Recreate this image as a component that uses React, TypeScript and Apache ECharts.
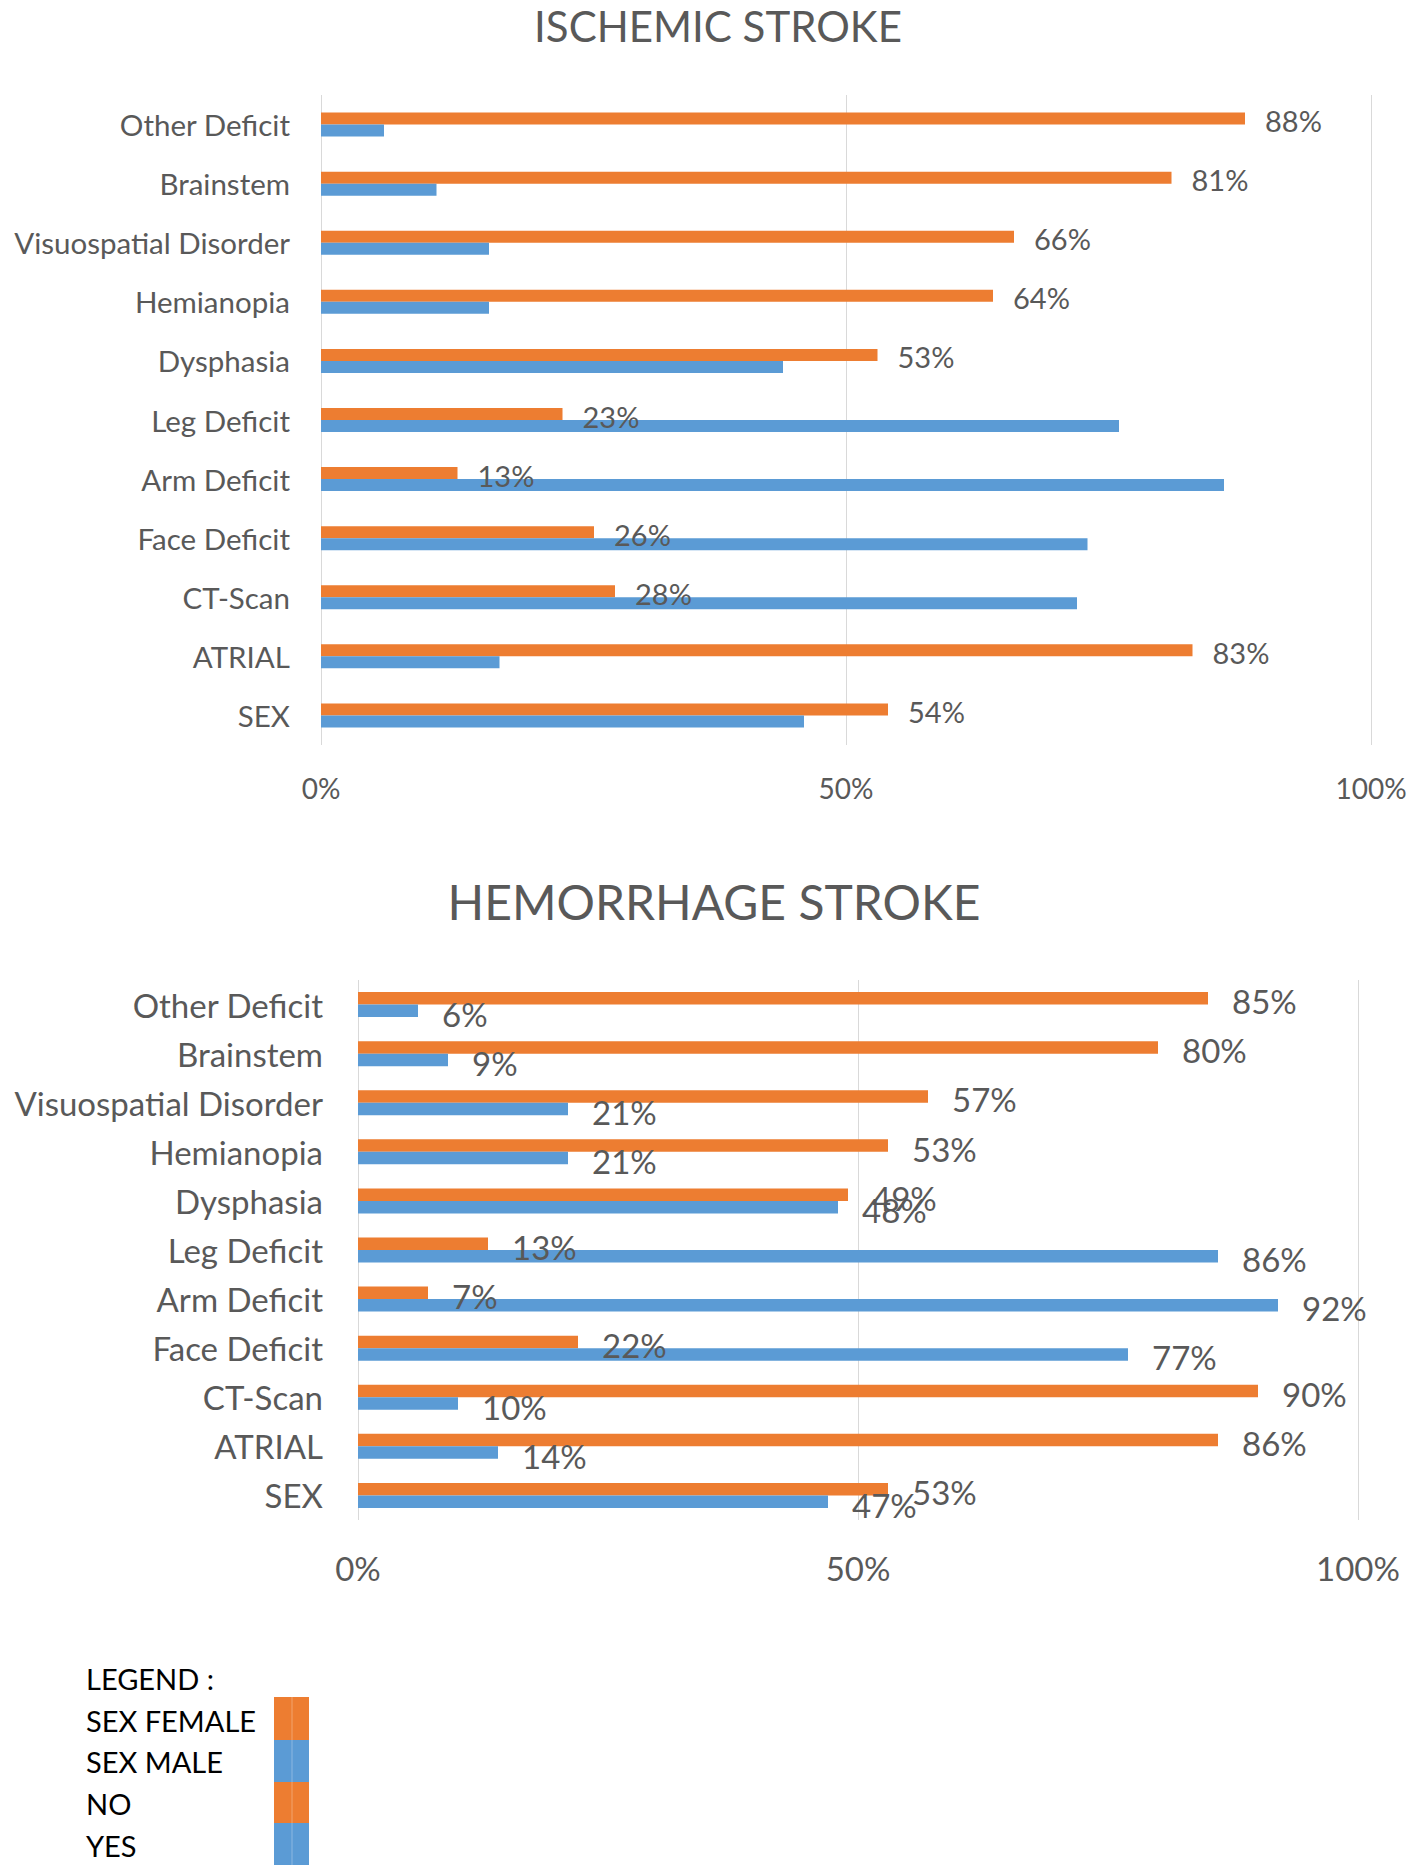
import React, { useEffect, useRef } from "react";
import * as echarts from "echarts";

const categories = [
  "SEX",
  "ATRIAL",
  "CT-Scan",
  "Face Deficit",
  "Arm Deficit",
  "Leg Deficit",
  "Dysphasia",
  "Hemianopia",
  "Visuospatial Disorder",
  "Brainstem",
  "Other Deficit",
];

const ischemicNo = [54, 83, 28, 26, 13, 23, 53, 64, 66, 81, 88];
const ischemicYes = [46, 17, 72, 73, 86, 76, 44, 16, 16, 11, 6];
const hemorrhageNo = [53, 86, 90, 22, 7, 13, 49, 53, 57, 80, 85];
const hemorrhageYes = [47, 14, 10, 77, 92, 86, 48, 21, 21, 9, 6];

const xTicks = [0, 50, 100];
const titles = ["ISCHEMIC STROKE", "HEMORRHAGE STROKE"];
const legendItems = ["SEX FEMALE", "SEX MALE", "NO", "YES"];

const ORANGE = "#ED7D31";
const BLUE = "#5B9BD5";
const TEXT = "#595959";
const GRIDC = "#D9D9D9";
const FONT = "Lato, 'Open Sans', sans-serif";

export default function App() {
  const ref = useRef<HTMLDivElement>(null);

  useEffect(() => {
    document.body.style.margin = "0";
    if (!ref.current) return;
    const chart = echarts.init(ref.current, null, { renderer: "svg" });

    const mkX = (idx: number, fs: number, margin: number) => ({
      type: "value",
      gridIndex: idx,
      min: xTicks[0],
      max: xTicks[xTicks.length - 1],
      interval: xTicks[1] - xTicks[0],
      axisLine: { show: false },
      axisTick: { show: false },
      axisLabel: {
        formatter: "{value}%",
        color: TEXT,
        fontSize: fs,
        fontFamily: FONT,
        margin,
      },
      splitLine: { show: true, lineStyle: { color: GRIDC, width: 1 } },
    });
    const mkY = (idx: number, fs: number, margin: number) => ({
      type: "category",
      gridIndex: idx,
      data: categories,
      axisLine: { show: false },
      axisTick: { show: false },
      axisLabel: { color: TEXT, fontSize: fs, fontFamily: FONT, margin },
    });

    const labelStyle = (fs: number, dist: number, dy: number) => ({
      show: true,
      position: "right",
      distance: dist,
      offset: [0, dy],
      formatter: "{c}%",
      color: TEXT,
      fontSize: fs,
      fontFamily: FONT,
    });

    const legendG: any[] = [
      {
        type: "text",
        x: 86,
        y: 1678,
        style: {
          text: "LEGEND :",
          fill: "#000",
          font: `29px ${FONT}`,
          textVerticalAlign: "middle",
        },
      },
    ];
    const legendY = [1720, 1761, 1803, 1845];
    const swTop = [1697, 1740, 1782, 1823, 1865];
    legendItems.forEach((t, i) => {
      legendG.push({
        type: "text",
        x: 86,
        y: legendY[i],
        style: {
          text: t,
          fill: "#000",
          font: `29px ${FONT}`,
          textVerticalAlign: "middle",
        },
      });
      legendG.push({
        type: "rect",
        shape: { x: 274, y: swTop[i], width: 35, height: swTop[i + 1] - swTop[i] },
        style: { fill: i % 2 === 0 ? ORANGE : BLUE },
      });
    });
    legendG.push({
      type: "line",
      shape: { x1: 292, y1: 1697, x2: 292, y2: 1865 },
      style: { stroke: "rgba(255,255,255,0.3)", lineWidth: 1 },
    });

    chart.setOption({
      animation: false,
      backgroundColor: "#fff",
      grid: [
        { left: 321, top: 95, width: 1050, height: 650, containLabel: false },
        { left: 358, top: 980, width: 1000, height: 540, containLabel: false },
      ],
      xAxis: [mkX(0, 28, 29), mkX(1, 33, 31)],
      yAxis: [mkY(0, 29.5, 31), mkY(1, 33, 35)],
      series: [
        {
          type: "bar",
          name: "NO",
          xAxisIndex: 0,
          yAxisIndex: 0,
          data: ischemicNo,
          barWidth: 12,
          barGap: "0%",
          itemStyle: { color: ORANGE },
          label: labelStyle(29, 20, 2),
        },
        {
          type: "bar",
          name: "YES",
          xAxisIndex: 0,
          yAxisIndex: 0,
          data: ischemicYes,
          barWidth: 12,
          barGap: "0%",
          itemStyle: { color: BLUE },
        },
        {
          type: "bar",
          name: "NO",
          xAxisIndex: 1,
          yAxisIndex: 1,
          data: hemorrhageNo,
          barWidth: 12.5,
          barGap: "0%",
          itemStyle: { color: ORANGE },
          label: labelStyle(33, 24, 3),
        },
        {
          type: "bar",
          name: "YES",
          xAxisIndex: 1,
          yAxisIndex: 1,
          data: hemorrhageYes,
          barWidth: 12.5,
          barGap: "0%",
          itemStyle: { color: BLUE },
          label: labelStyle(33, 24, 3),
        },
      ],
      graphic: [
        {
          type: "text",
          x: 718,
          y: 26,
          style: {
            text: titles[0],
            fill: TEXT,
            font: `42px ${FONT}`,
            textAlign: "center",
            textVerticalAlign: "middle",
          },
        },
        {
          type: "text",
          x: 714,
          y: 901,
          style: {
            text: titles[1],
            fill: TEXT,
            font: `48px ${FONT}`,
            textAlign: "center",
            textVerticalAlign: "middle",
          },
        },
        ...legendG,
      ],
    });

    return () => chart.dispose();
  }, []);

  return <div ref={ref} style={{ width: 1418, height: 1870 }} />;
}
